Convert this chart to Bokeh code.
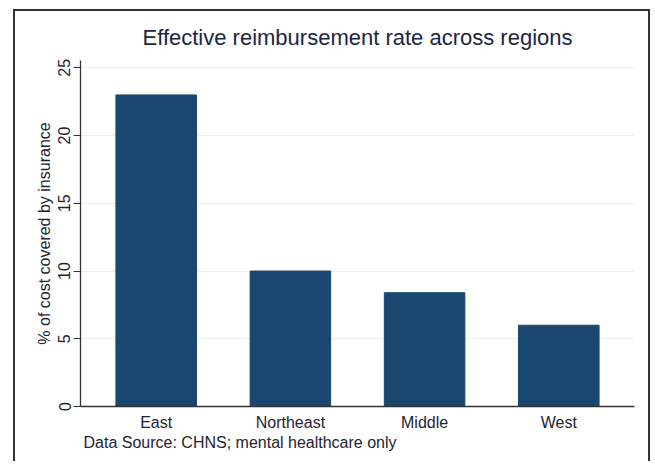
from bokeh.plotting import figure
from bokeh.models import ColumnDataSource, FactorRange, Range1d, FixedTicker, Title
from bokeh.embed import file_html
from bokeh.resources import INLINE

regions = ["East", "Northeast", "Middle", "West"]
rates = [23.0, 10.0, 8.4, 6.0]
y_ticks = [0, 5, 10, 15, 20, 25]

title_text = "Effective reimbursement rate across regions"
y_label = "% of cost covered by insurance"
note_text = "Data Source: CHNS; mental healthcare only"

FONT = "Liberation Sans"
BAR = "#1a476f"
TXT = "#1e2430"

src = ColumnDataSource(dict(region=regions, rate=rates))

p = figure(
    width=637, height=452,
    x_range=FactorRange(factors=regions, range_padding=0.064, range_padding_units="absolute"),
    y_range=Range1d(0, 25.54),
    output_backend="svg", toolbar_location=None,
    min_border_left=65, min_border_right=18, min_border_top=49, min_border_bottom=57,
)
p.styles = {
    "border-left": "2px solid #333333",
    "border-top": "2px solid #333333",
    "border-right": "2px solid #333333",
    "margin-left": "13px",
    "margin-top": "9px",
}

p.vbar(x="region", top="rate", width=0.6, source=src, fill_color=BAR, line_color=BAR, line_width=1)

p.title.text = title_text
p.title.align = "center"
p.title.text_font = FONT
p.title.text_font_size = "22px"
p.title.text_font_style = "normal"
p.title.text_color = "#1c2540"
p.title.standoff = 21

p.outline_line_color = None
p.background_fill_color = "white"
p.border_fill_color = "white"

p.xgrid.grid_line_color = None
p.ygrid.ticker = FixedTicker(ticks=y_ticks)
p.ygrid.grid_line_color = "#e6eff1"
p.ygrid.grid_line_width = 1

yax = p.yaxis[0]
yax.ticker = FixedTicker(ticks=y_ticks)
yax.minor_tick_line_color = None
yax.major_tick_in = 0
yax.major_tick_out = 7
yax.major_tick_line_color = "#333333"
yax.axis_line_color = "#333333"
yax.axis_line_width = 1.3
yax.major_label_orientation = "vertical"
yax.major_label_text_font = FONT
yax.major_label_text_font_size = "16px"
yax.major_label_text_color = TXT
yax.major_label_standoff = 3
yax.axis_label = y_label
yax.axis_label_text_font = FONT
yax.axis_label_text_font_size = "16px"
yax.axis_label_text_font_style = "normal"
yax.axis_label_text_color = TXT
yax.axis_label_standoff = 3

xax = p.xaxis[0]
xax.major_tick_line_color = None
xax.minor_tick_line_color = None
xax.axis_line_color = "#333333"
xax.axis_line_width = 1.3
xax.major_label_text_font = FONT
xax.major_label_text_font_size = "16px"
xax.major_label_text_color = TXT
xax.major_label_standoff = 1

note = Title(text=note_text, align="left", vertical_align="top", text_font=FONT,
             text_font_size="16px", text_font_style="normal", text_color=TXT,
             offset=3, standoff=0)
p.add_layout(note, "below")

open("out.html", "w").write(file_html(p, INLINE))
